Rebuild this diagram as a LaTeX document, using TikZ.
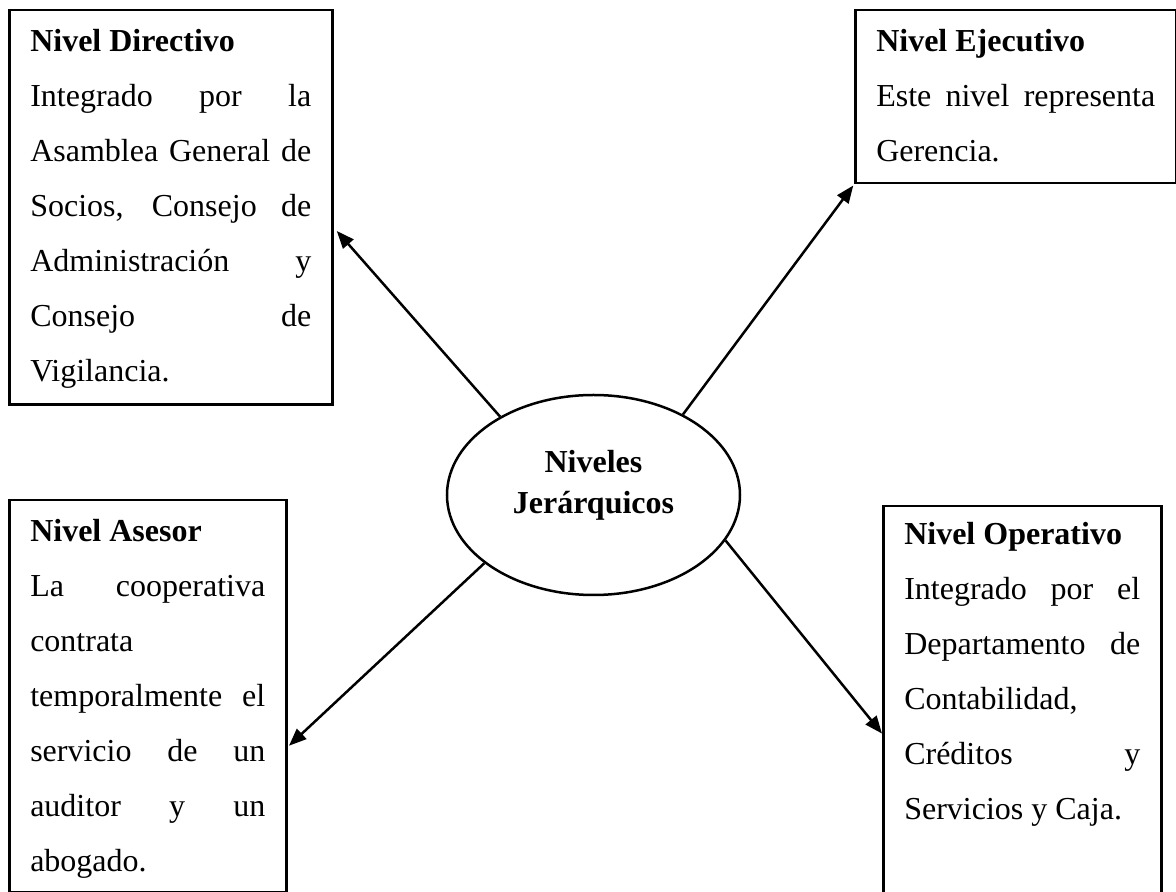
\documentclass[tikz,border=0pt]{standalone}
\usepackage{fontspec}
\setmainfont{Liberation Serif}
\usetikzlibrary{arrows.meta, shapes.geometric}

\newcommand{\jline}[1]{\makebox[\linewidth][s]{#1}\par}

\begin{document}
\begin{tikzpicture}[
	x=0.4pt, y=-0.4pt,
	levelbox/.style={draw, rectangle, line width=1pt, anchor=north west, inner xsep=8.4pt, inner ysep=0pt, font=\fontsize{12.8}{22}\selectfont},
	hub/.style={draw, ellipse, line width=1pt, minimum width=117.2pt, minimum height=80pt, inner sep=0pt, font=\fontsize{12.8}{16.4}\selectfont\bfseries},
	arrow/.style={-{Triangle[length=7pt, width=5.5pt]}, line width=1pt}
	]
	\useasboundingbox (0,0) rectangle (1176,892);
	\clip (0,0) rectangle (1176,892);
	
	% --- NODOS ---
	\node[hub] (hub) at (593.5,495) {\parbox[c][30pt][c]{70pt}{\centering Niveles\\Jerárquicos\par\vspace{8pt}}};
	
	\node[levelbox] (dir) at (8,9) {\parbox[t][157.6pt][t]{112.4pt}{%
		\rule{0pt}{16.4pt}\textbf{Nivel Directivo}\par
		\jline{Integrado por la}
		\jline{Asamblea General de}
		\jline{Socios, Consejo de}
		\jline{Administración y}
		\jline{Consejo de}
		Vigilancia.}};
	
	\node[levelbox] (eje) at (854,9) {\parbox[t][69.2pt][t]{111.6pt}{%
		\rule{0pt}{16.4pt}\textbf{Nivel Ejecutivo}\par
		\jline{Este nivel representa}
		Gerencia.}};
	
	\node[levelbox] (ase) at (8,499) {\parbox[t][156.8pt][t]{94pt}{%
		\rule{0pt}{16.4pt}\textbf{Nivel Asesor}\par
		\jline{La cooperativa}
		contrata\par
		\jline{temporalmente el}
		\jline{servicio de un}
		\jline{auditor y un}
		abogado.}};
	
	\node[levelbox] (ope) at (882,505) {\parbox[t][158pt][t]{94.4pt}{%
		\rule{0pt}{15.2pt}\textbf{Nivel Operativo}\par
		\jline{Integrado por el}
		\jline{Departamento de}
		Contabilidad,\par
		\jline{Créditos y}
		Servicios y Caja.}};
	
	% --- FLECHAS ---
	\draw[arrow, shorten >=2pt] (hub.140.5) -- (dir.-7.4);
	\draw[arrow, shorten >=0.5pt] (hub.42.1) -- (eje.south west);
	\draw[arrow, shorten >=0.8pt] (hub.212.2) -- (ase.-20.9);
	\draw[arrow] (hub.-19.6) -- (ope.192.4);
	
\end{tikzpicture}
\end{document}
